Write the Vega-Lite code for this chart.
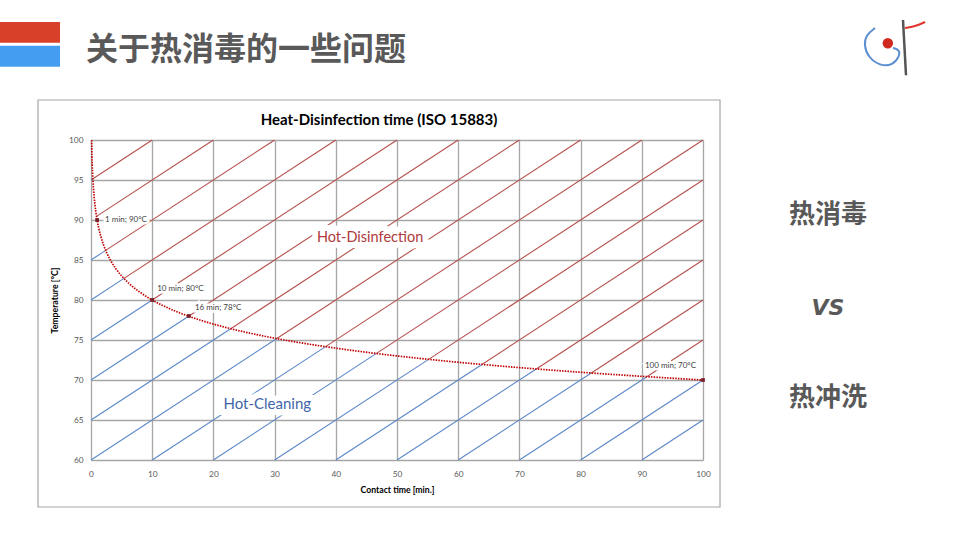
{
  "$schema": "https://vega.github.io/schema/vega-lite/v6.json",
  "width": 612,
  "height": 320,
  "autosize": {"type": "none"},
  "padding": {"left": 91, "top": 140, "right": 257, "bottom": 80},
  "background": "white",
  "config": {"view": {"stroke": null}, "font": "Lato"},
  "datasets": {
    "frame": [{"x": -8.66, "x2": 102.78, "y": 105, "y2": 54.125}],
    "bars": [
      {"x": -14.9, "x2": -5.065, "y": 114.75, "y2": 112.16, "c": "red"},
      {"x": -14.9, "x2": -5.065, "y": 111.79, "y2": 109.16, "c": "blue"}
    ],
    "diag": [
      {"x1": 0, "y1": 95, "x2": 0.313, "y2": 95.16, "zone": "Hot-Cleaning"},
      {"x1": 0.313, "y1": 95.16, "x2": 10, "y2": 100, "zone": "Hot-Disinfection"},
      {"x1": 0.902, "y1": 90.45, "x2": 20, "y2": 100, "zone": "Hot-Disinfection"},
      {"x1": 0, "y1": 85, "x2": 2.4, "y2": 86.2, "zone": "Hot-Cleaning"},
      {"x1": 2.4, "y1": 86.2, "x2": 30, "y2": 100, "zone": "Hot-Disinfection"},
      {"x1": 0, "y1": 80, "x2": 5.39, "y2": 82.7, "zone": "Hot-Cleaning"},
      {"x1": 5.39, "y1": 82.7, "x2": 40, "y2": 100, "zone": "Hot-Disinfection"},
      {"x1": 0, "y1": 75, "x2": 10, "y2": 80, "zone": "Hot-Cleaning"},
      {"x1": 10, "y1": 80, "x2": 50, "y2": 100, "zone": "Hot-Disinfection"},
      {"x1": 0, "y1": 70, "x2": 15.95, "y2": 77.97, "zone": "Hot-Cleaning"},
      {"x1": 15.95, "y1": 77.97, "x2": 60, "y2": 100, "zone": "Hot-Disinfection"},
      {"x1": 0, "y1": 65, "x2": 22.83, "y2": 76.41, "zone": "Hot-Cleaning"},
      {"x1": 22.83, "y1": 76.41, "x2": 70, "y2": 100, "zone": "Hot-Disinfection"},
      {"x1": 0, "y1": 60, "x2": 30.36, "y2": 75.18, "zone": "Hot-Cleaning"},
      {"x1": 30.36, "y1": 75.18, "x2": 80, "y2": 100, "zone": "Hot-Disinfection"},
      {"x1": 10, "y1": 60, "x2": 38.33, "y2": 74.17, "zone": "Hot-Cleaning"},
      {"x1": 38.33, "y1": 74.17, "x2": 90, "y2": 100, "zone": "Hot-Disinfection"},
      {"x1": 20, "y1": 60, "x2": 46.65, "y2": 73.33, "zone": "Hot-Cleaning"},
      {"x1": 46.65, "y1": 73.33, "x2": 100, "y2": 100, "zone": "Hot-Disinfection"},
      {"x1": 30, "y1": 60, "x2": 55.17, "y2": 72.58, "zone": "Hot-Cleaning"},
      {"x1": 55.17, "y1": 72.58, "x2": 100, "y2": 95, "zone": "Hot-Disinfection"},
      {"x1": 40, "y1": 60, "x2": 63.88, "y2": 71.94, "zone": "Hot-Cleaning"},
      {"x1": 63.88, "y1": 71.94, "x2": 100, "y2": 90, "zone": "Hot-Disinfection"},
      {"x1": 50, "y1": 60, "x2": 72.76, "y2": 71.38, "zone": "Hot-Cleaning"},
      {"x1": 72.76, "y1": 71.38, "x2": 100, "y2": 85, "zone": "Hot-Disinfection"},
      {"x1": 60, "y1": 60, "x2": 81.75, "y2": 70.88, "zone": "Hot-Cleaning"},
      {"x1": 81.75, "y1": 70.88, "x2": 100, "y2": 80, "zone": "Hot-Disinfection"},
      {"x1": 70, "y1": 60, "x2": 90.82, "y2": 70.41, "zone": "Hot-Cleaning"},
      {"x1": 90.82, "y1": 70.41, "x2": 100, "y2": 75, "zone": "Hot-Disinfection"},
      {"x1": 80, "y1": 60, "x2": 100, "y2": 70, "zone": "Hot-Cleaning"},
      {"x1": 90, "y1": 60, "x2": 100, "y2": 65, "zone": "Hot-Cleaning"}
    ],
    "curve": [
      {"t": 0.1, "T": 100}, {"t": 0.126, "T": 99}, {"t": 0.158, "T": 98}, {"t": 0.2, "T": 97},
      {"t": 0.251, "T": 96}, {"t": 0.316, "T": 95}, {"t": 0.398, "T": 94}, {"t": 0.501, "T": 93},
      {"t": 0.631, "T": 92}, {"t": 0.794, "T": 91}, {"t": 1, "T": 90}, {"t": 1.259, "T": 89},
      {"t": 1.585, "T": 88}, {"t": 1.995, "T": 87}, {"t": 2.512, "T": 86}, {"t": 3.162, "T": 85},
      {"t": 3.981, "T": 84}, {"t": 5.012, "T": 83}, {"t": 6.31, "T": 82}, {"t": 7.943, "T": 81},
      {"t": 10, "T": 80}, {"t": 11.22, "T": 79.5}, {"t": 12.59, "T": 79}, {"t": 14.13, "T": 78.5},
      {"t": 15.85, "T": 78}, {"t": 17.78, "T": 77.5}, {"t": 19.95, "T": 77}, {"t": 22.39, "T": 76.5},
      {"t": 25.12, "T": 76}, {"t": 28.18, "T": 75.5}, {"t": 31.62, "T": 75}, {"t": 35.48, "T": 74.5},
      {"t": 39.81, "T": 74}, {"t": 44.67, "T": 73.5}, {"t": 50.12, "T": 73}, {"t": 56.23, "T": 72.5},
      {"t": 63.1, "T": 72}, {"t": 70.79, "T": 71.5}, {"t": 79.43, "T": 71}, {"t": 89.13, "T": 70.5},
      {"t": 100, "T": 70}
    ],
    "pts": [
      {"t": 1, "T": 90, "label": "1 min; 90°C"},
      {"t": 10, "T": 80, "label": "10 min; 80°C"},
      {"t": 16, "T": 78, "label": "16 min; 78°C"},
      {"t": 100, "T": 70, "label": "100 min; 70°C"}
    ],
    "zones": [
      {"x": 45.6, "y": 87.75, "label": "Hot-Disinfection"},
      {"x": 28.8, "y": 67, "label": "Hot-Cleaning"}
    ],
    "ctitle": [{"x": 47.06, "y": 102.5, "label": "Heat-Disinfection time (ISO 15883)"}],
    "slide": [
      {"x": -0.82, "y": 111.25, "label": "关于热消毒的一些问题", "kind": "title"},
      {"x": 120.42, "y": 90.6, "label": "热消毒", "kind": "side"},
      {"x": 120.42, "y": 79, "label": "VS", "kind": "vs"},
      {"x": 120.42, "y": 67.75, "label": "热冲洗", "kind": "side"}
    ],
    "logoLoop": [
      {"o": 1, "x": 128.1, "y": 114}, {"o": 2, "x": 126.63, "y": 113.125}, {"o": 3, "x": 126.31, "y": 111.875},
      {"o": 4, "x": 126.96, "y": 110.375}, {"o": 5, "x": 128.92, "y": 109.25}, {"o": 6, "x": 131.05, "y": 109.375},
      {"o": 7, "x": 132.03, "y": 110.375}, {"o": 8, "x": 132.19, "y": 111.25}, {"o": 9, "x": 131.05, "y": 111.5}
    ],
    "logoFlag": [
      {"o": 1, "x": 133.0, "y": 114.0}, {"o": 2, "x": 134.6, "y": 114.2}, {"o": 3, "x": 136.3, "y": 114.75}
    ],
    "logoPole": [{"x": 132.68, "y": 115, "x2": 133.17, "y2": 108.1}],
    "logoHeart": [{"x": 130.2, "y": 112.1}]
  },
  "layer": [
    {
      "data": {"name": "diag"},
      "transform": [{"filter": "datum.zone === 'Hot-Cleaning'"}],
      "mark": {"type": "rule", "color": "#5B87C8", "strokeWidth": 1.1},
      "encoding": {
        "x": {"field": "x1", "type": "quantitative", "scale": {"domain": [0, 100], "nice": false, "zero": false},
          "axis": {"values": [0, 10, 20, 30, 40, 50, 60, 70, 80, 90, 100], "tickCount": 30, "labelOverlap": false, "labelFlush": false, "title": "Contact time [min.]", "grid": true, "gridColor": "#A6A6A6", "gridWidth": 1.3, "domain": false, "ticks": false, "labelFontSize": 8.3, "labelColor": "#595959", "labelPadding": 9, "labelFont": "Lato", "titleFont": "Lato", "titleFontSize": 8.7, "titleFontWeight": "bold", "titleColor": "#000000", "titlePadding": 8}},
        "x2": {"field": "x2"},
        "y": {"field": "y1", "type": "quantitative", "scale": {"domain": [60, 100], "nice": false, "zero": false},
          "axis": {"values": [60, 65, 70, 75, 80, 85, 90, 95, 100], "tickCount": 30, "labelOverlap": false, "labelFlush": false, "title": "Temperature [°C]", "grid": true, "gridColor": "#A6A6A6", "gridWidth": 1.3, "domain": false, "ticks": false, "labelFontSize": 8.3, "labelColor": "#595959", "labelPadding": 8, "labelFont": "Lato", "titleFont": "Lato", "titleFontSize": 8.7, "titleFontWeight": "bold", "titleColor": "#000000", "titlePadding": 9}},
        "y2": {"field": "y2"}
      }
    },
    {
      "data": {"name": "frame"},
      "mark": {"type": "rect", "fillOpacity": 0, "stroke": "#A6A6A6", "strokeWidth": 1.2},
      "encoding": {
        "x": {"field": "x", "type": "quantitative", "scale": {"domain": [0, 100], "nice": false, "zero": false}},
        "x2": {"field": "x2"},
        "y": {"field": "y", "type": "quantitative", "scale": {"domain": [60, 100], "nice": false, "zero": false}},
        "y2": {"field": "y2"}
      }
    },
    {
      "data": {"name": "diag"},
      "transform": [{"filter": "datum.zone === 'Hot-Disinfection'"}],
      "mark": {"type": "rule", "color": "#B5504D", "strokeWidth": 1.1},
      "encoding": {
        "x": {"field": "x1", "type": "quantitative", "scale": {"domain": [0, 100], "nice": false, "zero": false}},
        "x2": {"field": "x2"},
        "y": {"field": "y1", "type": "quantitative", "scale": {"domain": [60, 100], "nice": false, "zero": false}},
        "y2": {"field": "y2"}
      }
    },
    {
      "data": {"name": "curve"},
      "mark": {"type": "line", "color": "#C00000", "strokeWidth": 1.7, "strokeDash": [1.5, 1.2], "interpolate": "monotone"},
      "encoding": {
        "x": {"field": "t", "type": "quantitative", "scale": {"domain": [0, 100], "nice": false, "zero": false}},
        "y": {"field": "T", "type": "quantitative", "scale": {"domain": [60, 100], "nice": false, "zero": false}}
      }
    },
    {
      "data": {"name": "pts"},
      "mark": {"type": "square", "color": "#7A1F2A", "size": 14, "opacity": 1, "filled": true},
      "encoding": {
        "x": {"field": "t", "type": "quantitative", "scale": {"domain": [0, 100], "nice": false, "zero": false}},
        "y": {"field": "T", "type": "quantitative", "scale": {"domain": [60, 100], "nice": false, "zero": false}}
      }
    },
    {
      "data": {"name": "pts"},
      "transform": [{"filter": "datum.t === 1"}],
      "encoding": {
        "x": {"field": "t", "type": "quantitative", "scale": {"domain": [0, 100], "nice": false, "zero": false}},
        "y": {"field": "T", "type": "quantitative", "scale": {"domain": [60, 100], "nice": false, "zero": false}},
        "text": {"field": "label"}
      },
      "layer": [
        {"mark": {"type": "text", "align": "left", "baseline": "middle", "dx": 8, "dy": 0, "fontSize": 8, "font": "Lato", "stroke": "white", "strokeWidth": 5, "color": "white"}},
        {"mark": {"type": "text", "align": "left", "baseline": "middle", "dx": 8, "dy": 0, "fontSize": 8, "font": "Lato", "color": "#404040"}}
      ]
    },
    {
      "data": {"name": "pts"},
      "transform": [{"filter": "datum.t === 10"}],
      "encoding": {
        "x": {"field": "t", "type": "quantitative", "scale": {"domain": [0, 100], "nice": false, "zero": false}},
        "y": {"field": "T", "type": "quantitative", "scale": {"domain": [60, 100], "nice": false, "zero": false}},
        "text": {"field": "label"}
      },
      "layer": [
        {"mark": {"type": "text", "align": "left", "baseline": "middle", "dx": 5, "dy": -11, "fontSize": 8, "font": "Lato", "stroke": "white", "strokeWidth": 5, "color": "white"}},
        {"mark": {"type": "text", "align": "left", "baseline": "middle", "dx": 5, "dy": -11, "fontSize": 8, "font": "Lato", "color": "#404040"}}
      ]
    },
    {
      "data": {"name": "pts"},
      "transform": [{"filter": "datum.t === 16"}],
      "encoding": {
        "x": {"field": "t", "type": "quantitative", "scale": {"domain": [0, 100], "nice": false, "zero": false}},
        "y": {"field": "T", "type": "quantitative", "scale": {"domain": [60, 100], "nice": false, "zero": false}},
        "text": {"field": "label"}
      },
      "layer": [
        {"mark": {"type": "text", "align": "left", "baseline": "middle", "dx": 6, "dy": -8, "fontSize": 8, "font": "Lato", "stroke": "white", "strokeWidth": 5, "color": "white"}},
        {"mark": {"type": "text", "align": "left", "baseline": "middle", "dx": 6, "dy": -8, "fontSize": 8, "font": "Lato", "color": "#404040"}}
      ]
    },
    {
      "data": {"name": "pts"},
      "transform": [{"filter": "datum.t === 100"}],
      "encoding": {
        "x": {"field": "t", "type": "quantitative", "scale": {"domain": [0, 100], "nice": false, "zero": false}},
        "y": {"field": "T", "type": "quantitative", "scale": {"domain": [60, 100], "nice": false, "zero": false}},
        "text": {"field": "label"}
      },
      "layer": [
        {"mark": {"type": "text", "align": "right", "baseline": "middle", "dx": -7, "dy": -14, "fontSize": 8, "font": "Lato", "stroke": "white", "strokeWidth": 5, "color": "white"}},
        {"mark": {"type": "text", "align": "right", "baseline": "middle", "dx": -7, "dy": -14, "fontSize": 8, "font": "Lato", "color": "#404040"}}
      ]
    },
    {
      "data": {"name": "zones"},
      "transform": [{"filter": "datum.label === 'Hot-Disinfection'"}],
      "encoding": {
        "x": {"field": "x", "type": "quantitative", "scale": {"domain": [0, 100], "nice": false, "zero": false}},
        "y": {"field": "y", "type": "quantitative", "scale": {"domain": [60, 100], "nice": false, "zero": false}},
        "text": {"field": "label"}
      },
      "layer": [
        {"mark": {"type": "text", "align": "center", "baseline": "middle", "fontSize": 14.5, "font": "Lato", "stroke": "white", "strokeWidth": 12, "color": "white"}},
        {"mark": {"type": "text", "align": "center", "baseline": "middle", "fontSize": 14.5, "font": "Lato", "color": "#B03A3A"}}
      ]
    },
    {
      "data": {"name": "zones"},
      "transform": [{"filter": "datum.label === 'Hot-Cleaning'"}],
      "encoding": {
        "x": {"field": "x", "type": "quantitative", "scale": {"domain": [0, 100], "nice": false, "zero": false}},
        "y": {"field": "y", "type": "quantitative", "scale": {"domain": [60, 100], "nice": false, "zero": false}},
        "text": {"field": "label"}
      },
      "layer": [
        {"mark": {"type": "text", "align": "center", "baseline": "middle", "fontSize": 15, "font": "Lato", "stroke": "white", "strokeWidth": 12, "color": "white"}},
        {"mark": {"type": "text", "align": "center", "baseline": "middle", "fontSize": 15, "font": "Lato", "color": "#3E65A8"}}
      ]
    },
    {
      "data": {"name": "ctitle"},
      "mark": {"type": "text", "align": "center", "baseline": "middle", "font": "Lato", "fontWeight": "bold", "fontSize": 15, "color": "#000000"},
      "encoding": {
        "x": {"field": "x", "type": "quantitative", "scale": {"domain": [0, 100], "nice": false, "zero": false}},
        "y": {"field": "y", "type": "quantitative", "scale": {"domain": [60, 100], "nice": false, "zero": false}},
        "text": {"field": "label"}
      }
    },
    {
      "data": {"name": "bars"},
      "transform": [{"filter": "datum.c === 'red'"}],
      "mark": {"type": "rect", "color": "#D9402A"},
      "encoding": {
        "x": {"field": "x", "type": "quantitative", "scale": {"domain": [0, 100], "nice": false, "zero": false}},
        "x2": {"field": "x2"},
        "y": {"field": "y", "type": "quantitative", "scale": {"domain": [60, 100], "nice": false, "zero": false}},
        "y2": {"field": "y2"}
      }
    },
    {
      "data": {"name": "bars"},
      "transform": [{"filter": "datum.c === 'blue'"}],
      "mark": {"type": "rect", "color": "#459DF2"},
      "encoding": {
        "x": {"field": "x", "type": "quantitative", "scale": {"domain": [0, 100], "nice": false, "zero": false}},
        "x2": {"field": "x2"},
        "y": {"field": "y", "type": "quantitative", "scale": {"domain": [60, 100], "nice": false, "zero": false}},
        "y2": {"field": "y2"}
      }
    },
    {
      "data": {"name": "slide"},
      "transform": [{"filter": "datum.kind === 'title'"}],
      "mark": {"type": "text", "align": "left", "baseline": "middle", "font": "Noto Sans CJK SC", "fontWeight": "bold", "fontSize": 32, "color": "#595959"},
      "encoding": {
        "x": {"field": "x", "type": "quantitative", "scale": {"domain": [0, 100], "nice": false, "zero": false}},
        "y": {"field": "y", "type": "quantitative", "scale": {"domain": [60, 100], "nice": false, "zero": false}},
        "text": {"field": "label"}
      }
    },
    {
      "data": {"name": "slide"},
      "transform": [{"filter": "datum.kind === 'side'"}],
      "mark": {"type": "text", "align": "center", "baseline": "middle", "font": "Noto Sans CJK SC", "fontWeight": "bold", "fontSize": 26, "color": "#595959"},
      "encoding": {
        "x": {"field": "x", "type": "quantitative", "scale": {"domain": [0, 100], "nice": false, "zero": false}},
        "y": {"field": "y", "type": "quantitative", "scale": {"domain": [60, 100], "nice": false, "zero": false}},
        "text": {"field": "label"}
      }
    },
    {
      "data": {"name": "slide"},
      "transform": [{"filter": "datum.kind === 'vs'"}],
      "mark": {"type": "text", "align": "center", "baseline": "middle", "font": "DejaVu Sans", "fontStyle": "italic", "fontWeight": "bold", "fontSize": 22, "color": "#595959"},
      "encoding": {
        "x": {"field": "x", "type": "quantitative", "scale": {"domain": [0, 100], "nice": false, "zero": false}},
        "y": {"field": "y", "type": "quantitative", "scale": {"domain": [60, 100], "nice": false, "zero": false}},
        "text": {"field": "label"}
      }
    },
    {
      "data": {"name": "logoLoop"},
      "mark": {"type": "line", "color": "#5B8FD0", "strokeWidth": 2, "interpolate": "basis"},
      "encoding": {
        "x": {"field": "x", "type": "quantitative", "scale": {"domain": [0, 100], "nice": false, "zero": false}},
        "y": {"field": "y", "type": "quantitative", "scale": {"domain": [60, 100], "nice": false, "zero": false}},
        "order": {"field": "o"}
      }
    },
    {
      "data": {"name": "logoPole"},
      "mark": {"type": "rule", "color": "#555555", "strokeWidth": 2.5},
      "encoding": {
        "x": {"field": "x", "type": "quantitative", "scale": {"domain": [0, 100], "nice": false, "zero": false}},
        "x2": {"field": "x2"},
        "y": {"field": "y", "type": "quantitative", "scale": {"domain": [60, 100], "nice": false, "zero": false}},
        "y2": {"field": "y2"}
      }
    },
    {
      "data": {"name": "logoFlag"},
      "mark": {"type": "line", "color": "#E0362C", "strokeWidth": 2, "interpolate": "basis"},
      "encoding": {
        "x": {"field": "x", "type": "quantitative", "scale": {"domain": [0, 100], "nice": false, "zero": false}},
        "y": {"field": "y", "type": "quantitative", "scale": {"domain": [60, 100], "nice": false, "zero": false}},
        "order": {"field": "o"}
      }
    },
    {
      "data": {"name": "logoHeart"},
      "mark": {"type": "point", "shape": "circle", "filled": true, "color": "#D02A20", "size": 110, "opacity": 1},
      "encoding": {
        "x": {"field": "x", "type": "quantitative", "scale": {"domain": [0, 100], "nice": false, "zero": false}},
        "y": {"field": "y", "type": "quantitative", "scale": {"domain": [60, 100], "nice": false, "zero": false}}
      }
    }
  ]
}
